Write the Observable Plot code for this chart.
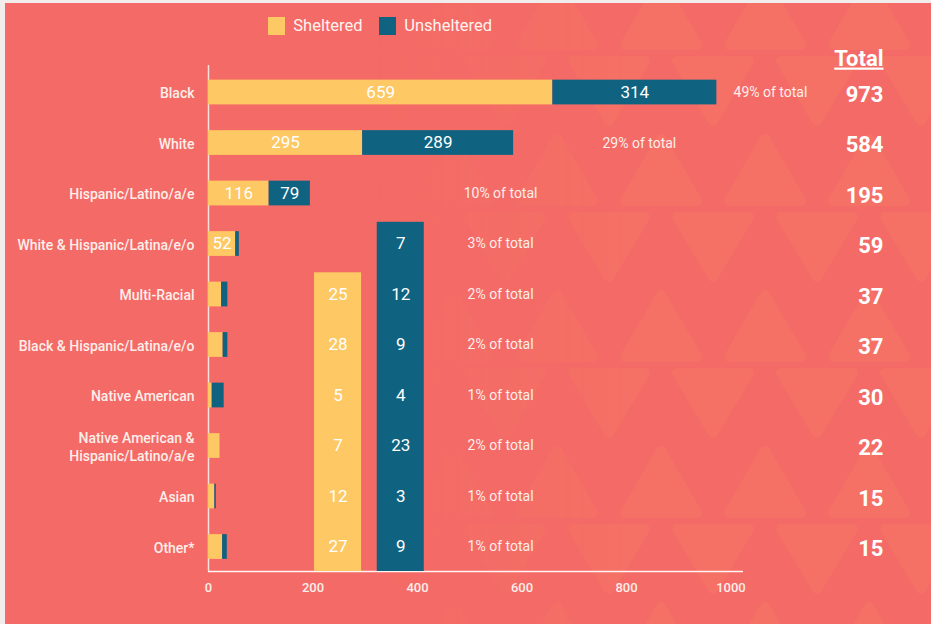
<!DOCTYPE html>
<html>
<head>
<meta charset="utf-8">
<script src="https://cdn.jsdelivr.net/npm/d3@7"></script>
<script src="https://cdn.jsdelivr.net/npm/@observablehq/plot@0.6"></script>
<style>
  html, body { margin: 0; padding: 0; width: 931px; height: 624px; overflow: hidden; background: #f1eded; font-family: Roboto, "Noto Sans", sans-serif; }
  #panel { position: absolute; left: 5px; top: 3px; width: 926px; height: 621px; background: #f46a66; overflow: hidden; }
  #pattern { position: absolute; left: 0; top: 0; width: 100%; height: 100%;
    -webkit-mask-image: linear-gradient(to right, transparent 40%, black 70%);
    mask-image: linear-gradient(to right, transparent 40%, black 70%); }
  #legend { position: absolute; left: 263px; top: 6px; }
  #chart { position: absolute; left: 0; top: 45px; }
</style>
</head>
<body>
<div id="panel">
  <div id="pattern"></div>
  <div id="legend"></div>
  <div id="chart"></div>
</div>
<script>
// ---- data ----
const categories = [
  "Black",
  "White",
  "Hispanic/Latino/a/e",
  "White & Hispanic/Latina/e/o",
  "Multi-Racial",
  "Black & Hispanic/Latina/e/o",
  "Native American",
  "Native American &\nHispanic/Latino/a/e",
  "Asian",
  "Other*"
];
const sheltered   = [659, 295, 116, 52, 25, 28, 7, 22, 12, 27];
const unsheltered = [314, 289, 79, 7, 12, 9, 23, 0, 3, 9];
const totals      = [973, 584, 195, 59, 37, 37, 30, 22, 15, 15];
const shareOfTotal = ["49%", "29%", "10%", "3%", "2%", "2%", "1%", "2%", "1%", "1%"];
// value boxes shown in the two columns (last rows of the chart)
const shelteredColumnLabels   = [25, 28, 5, 7, 12, 27];
const unshelteredColumnLabels = [7, 12, 9, 4, 23, 3, 9];
const xTicks = [0, 200, 400, 600, 800, 1000];
const seriesNames = ["Sheltered", "Unsheltered"];
const seriesColors = ["#fec864", "#0f6381"];
const totalHeader = "Total";

// ---- background pattern (decoration) ----
const tri = `<svg xmlns='http://www.w3.org/2000/svg' width='104' height='156'>
<g opacity='0.14' fill='rgb(252,150,95)' stroke='rgb(252,150,95)' stroke-width='10' stroke-linejoin='round'>
<polygon points='52,10 88,72 16,72'/>
<polygon points='-36,88 36,88 0,148'/>
<polygon points='68,88 140,88 104,148'/>
</g></svg>`;
document.getElementById("pattern").style.backgroundImage =
  `url("data:image/svg+xml,${encodeURIComponent(tri)}")`;
document.getElementById("pattern").style.backgroundPosition = "-20px -30px";

// ---- derived tables ----
const rows = categories.map((c, i) => ({
  i, category: c, sheltered: sheltered[i], unsheltered: unsheltered[i],
  total: totals[i], share: shareOfTotal[i]
}));
const segments = rows.flatMap(r => [
  {i: r.i, series: "Sheltered", x1: 0, x2: r.sheltered, value: r.sheltered},
  {i: r.i, series: "Unsheltered", x1: r.sheltered, x2: r.sheltered + r.unsheltered, value: r.unsheltered}
]);
const n = categories.length;
const yTop = -0.535, yBottom = n - 0.515;
const half = 0.245;

const columns = [
  {series: "Sheltered", x1: 203, x2: 293, labels: shelteredColumnLabels},
  {series: "Unsheltered", x1: 323, x2: 413, labels: unshelteredColumnLabels}
].map(c => ({...c, start: n - c.labels.length}));
const columnLabels = columns.flatMap(c =>
  c.labels.map((v, k) => ({i: c.start + k, value: v, xc: (c.x1 + c.x2) / 2})));

const textColor = "#fdeeea";

// ---- legend ----
const legend = Plot.legend({
  legend: "swatches",
  color: {domain: seriesNames, range: seriesColors},
  swatchWidth: 17, swatchHeight: 18,
  style: {color: "#fff3f0", fontSize: "16.5px", fontFamily: "Roboto"}
});
document.getElementById("legend").append(legend);

// ---- chart ----
const chart = Plot.plot({
  width: 926,
  height: 576,
  marginLeft: 203,
  marginRight: 188,
  marginTop: 17,
  marginBottom: 53,
  style: {background: "transparent", color: textColor, fontFamily: "Roboto", overflow: "visible"},
  x: {domain: [0, 1024]},
  y: {domain: [yTop, yBottom], reverse: true},
  color: {domain: seriesNames, range: seriesColors},
  marks: [
    Plot.ruleX([0], {stroke: "#fbe0dc", strokeWidth: 1.5}),
    Plot.ruleY([yBottom], {stroke: "#fff4f2", strokeWidth: 1.5}),
    Plot.axisX({ticks: xTicks, tickFormat: d => String(d), tickSize: 0, tickPadding: 11,
      fontSize: 13, fontWeight: 500, label: null, fill: textColor}),
    Plot.axisY({ticks: d3.range(n), tickFormat: i => categories[i], tickSize: 0, tickPadding: 14,
      fontSize: 14, fontWeight: 500, lineHeight: 1.3, label: null, fill: textColor}),
    Plot.rect(segments, {x1: "x1", x2: "x2", y1: d => d.i - half, y2: d => d.i + half, fill: "series"}),
    Plot.rect(columns, {x1: "x1", x2: "x2", y1: d => d.start - 0.43, y2: () => yBottom, fill: "series"}),
    Plot.text(segments.filter(d => d.value >= 40), {
      x: d => (d.x1 + d.x2) / 2, y: "i", text: d => String(d.value),
      fill: "#ffffff", fontSize: 17
    }),
    Plot.text(columnLabels, {x: "xc", y: "i", text: d => String(d.value), fill: "#ffffff", fontSize: 17}),
    Plot.text(rows, {
      x: d => d.total > 400 ? 448 + 0.645 * d.total : 559,
      y: "i", text: d => `${d.share} of total`, fill: textColor, fontSize: 14
    }),
    Plot.text(rows, {
      y: "i", frameAnchor: "right", dx: 140, dy: 2, textAnchor: "end",
      text: d => String(d.total), fill: "#ffffff", fontSize: 22, fontWeight: "bold"
    }),
    Plot.text([totalHeader], {
      frameAnchor: "top-right", dx: 140, dy: -7, textAnchor: "end", lineAnchor: "middle",
      text: d => d, fill: "#ffffff", fontSize: 22, fontWeight: "bold"
    })
  ]
});
d3.select(chart).selectAll("text")
  .filter(function() { return this.textContent === totalHeader; })
  .style("text-decoration", "underline");
document.getElementById("chart").append(chart);
</script>
</body>
</html>
